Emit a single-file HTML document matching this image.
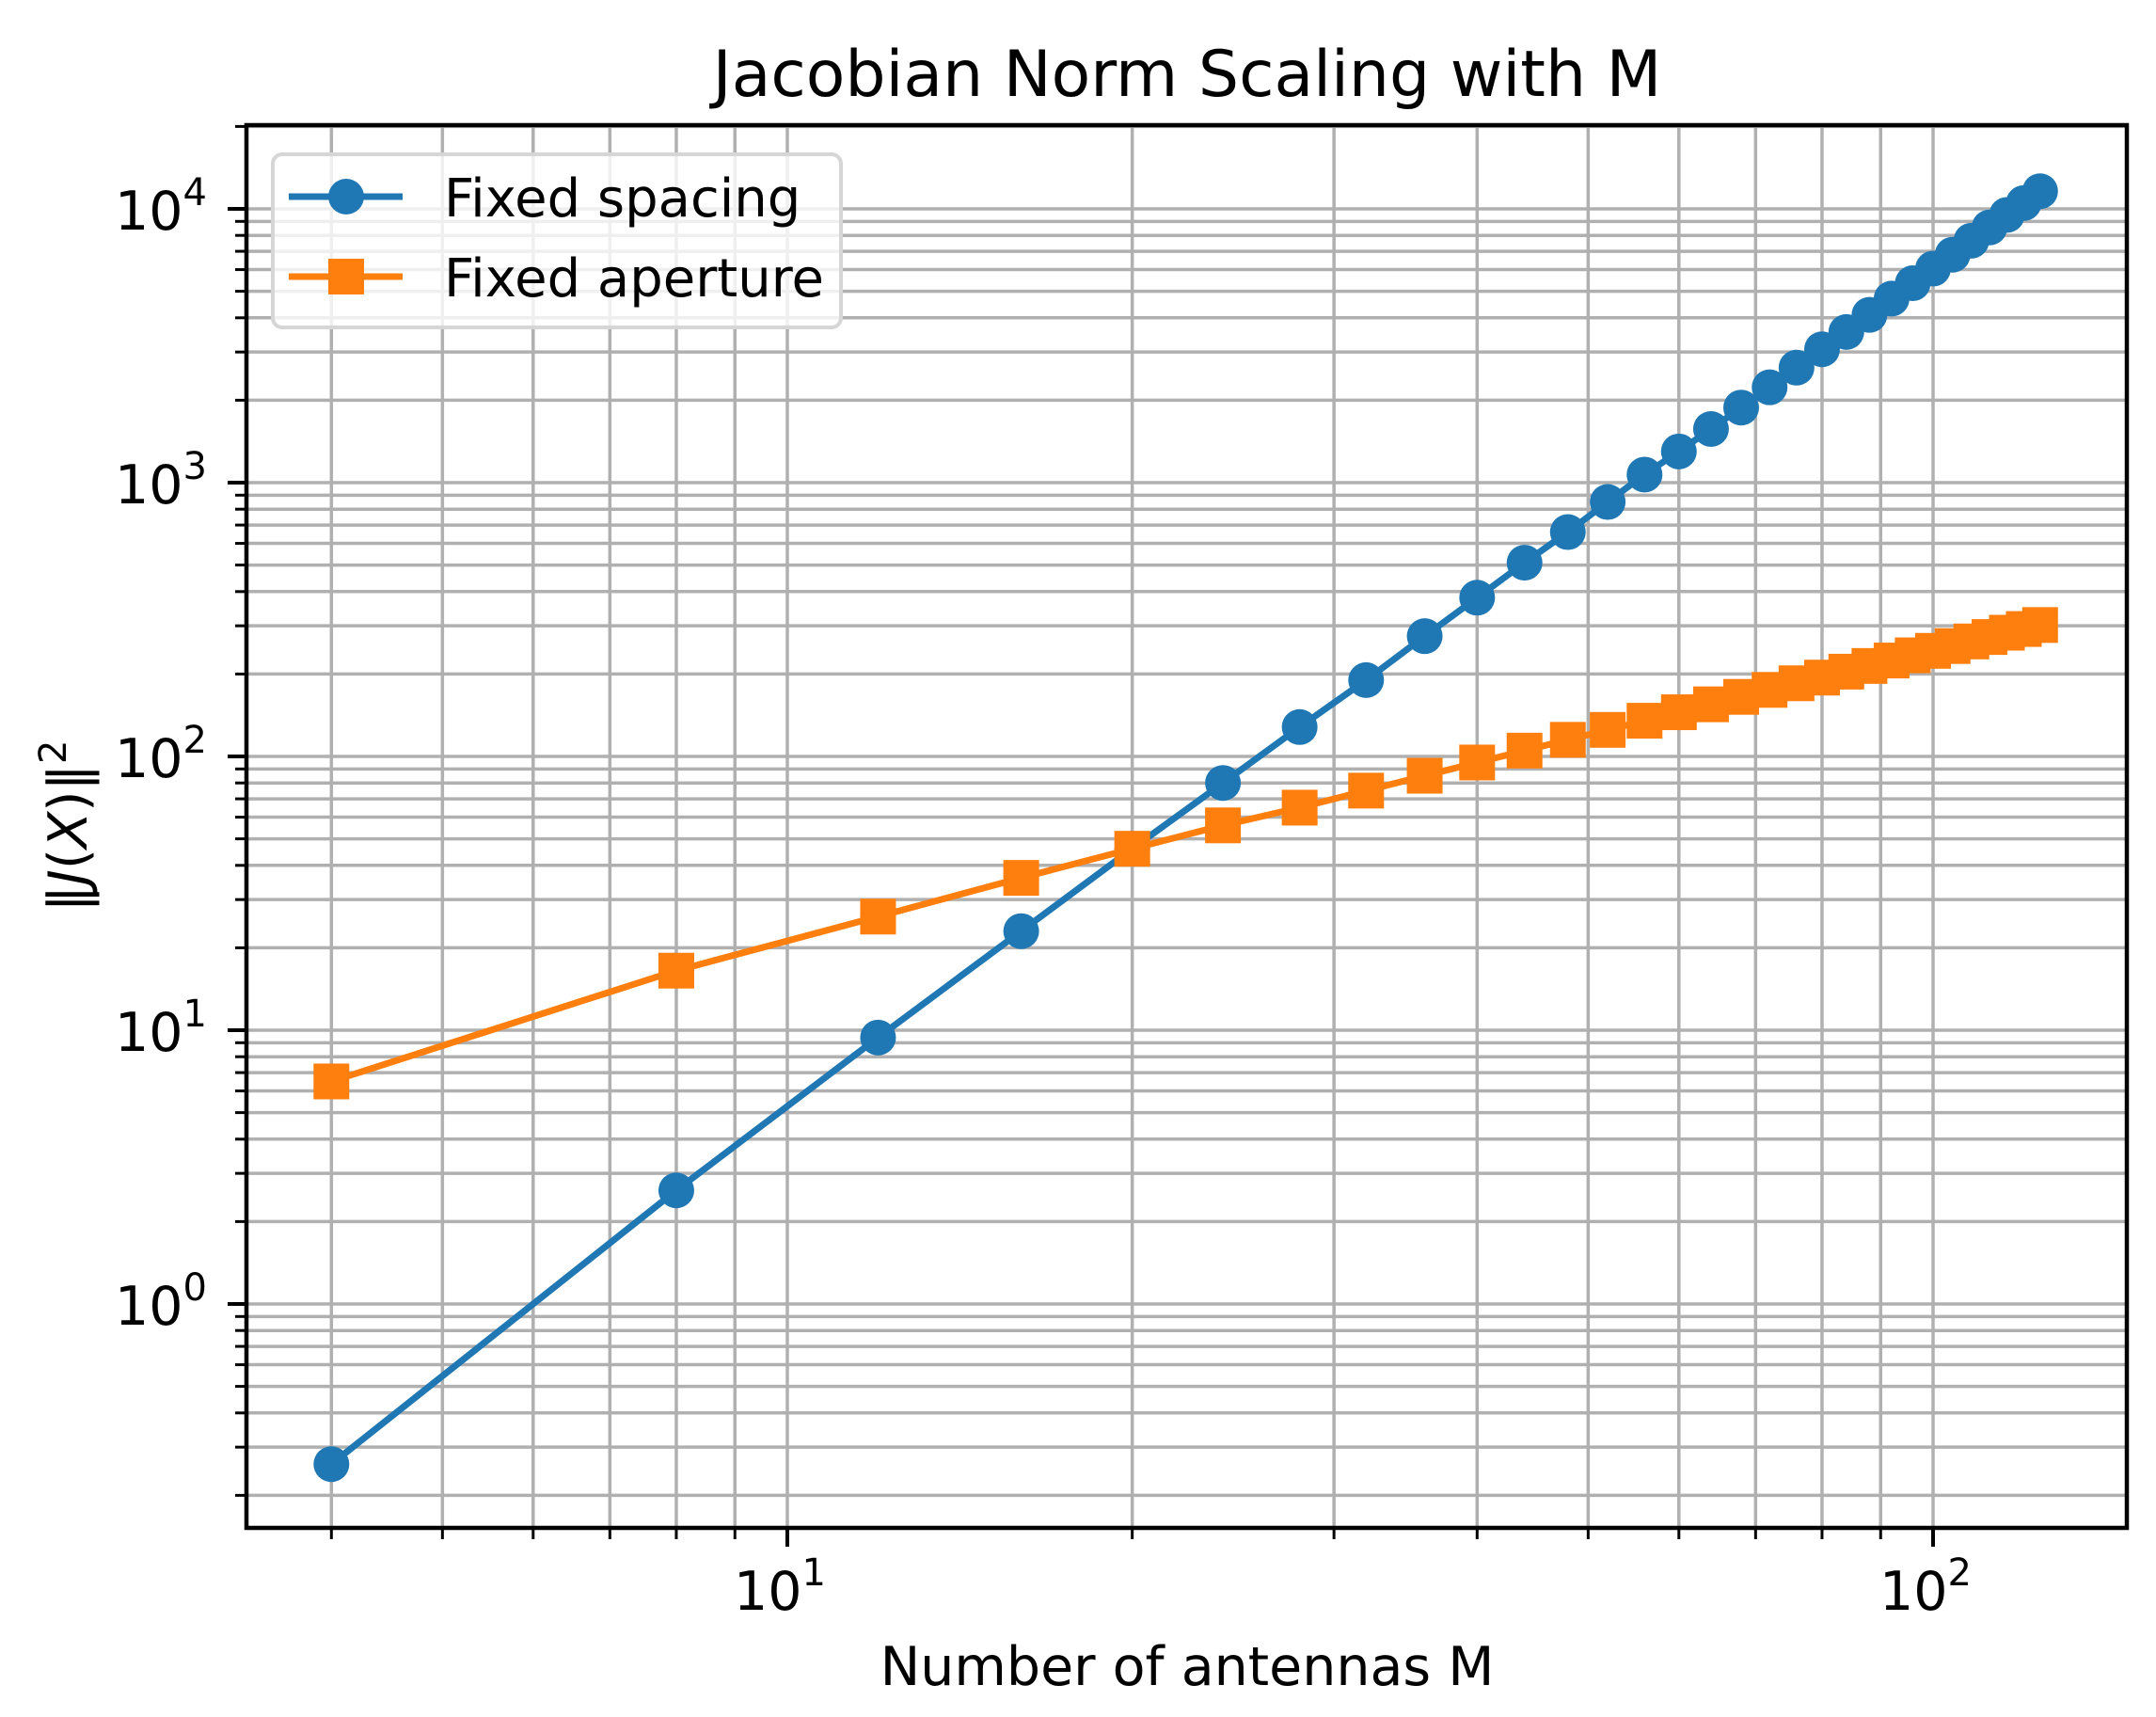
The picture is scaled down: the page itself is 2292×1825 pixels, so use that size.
<!DOCTYPE html>
<html><head><meta charset="utf-8"><style>
html,body{margin:0;padding:0;background:#fff;}
svg{display:block;font-family:"DejaVu Sans","Liberation Sans",sans-serif;}
</style></head><body>
<svg id="chart" width="2292" height="1825" viewBox="0 0 2292 1825" xmlns="http://www.w3.org/2000/svg">
<rect width="2292" height="1825" fill="#fff"/>
<g id="grid"></g>
<g id="ticks"></g>
<g id="series"></g>
<rect x="262" y="133" width="1999" height="1491" fill="none" stroke="#000" stroke-width="4.5"/>
<g>
<rect x="290" y="164" width="604" height="184" rx="10" fill="#fff" fill-opacity="0.8" stroke="#d6d6d6" stroke-width="4"/>
<line x1="307" y1="209" x2="428" y2="209" stroke="#1f77b4" stroke-width="7"/>
<circle cx="368" cy="209" r="19" fill="#1f77b4"/>
<text x="472" y="230" font-size="56" fill="#000">Fixed spacing</text>
<line x1="307" y1="294" x2="428" y2="294" stroke="#ff7f0e" stroke-width="7"/>
<rect x="349" y="275" width="38" height="38" fill="#ff7f0e"/>
<text x="472" y="315" font-size="56" fill="#000">Fixed aperture</text>
</g>
<text x="1262" y="102" font-size="68" text-anchor="middle" fill="#000">Jacobian Norm Scaling with M</text>
<text x="1262" y="1791" font-size="57" text-anchor="middle" fill="#000">Number of antennas M</text>
<text transform="translate(92,878) rotate(-90)" font-size="57" text-anchor="middle" fill="#000">‖<tspan font-style="italic">J</tspan>(<tspan font-style="italic">X</tspan>)‖<tspan font-size="40" dy="-22">2</tspan></text>
</svg>
<script>
const antennas = [4,8,12,16,20,24,28,32,36,40,44,48,52,56,60,64,68,72,76,80,84,88,92,96,100,104,108,112,116,120,124];
const fixedSpacing = [0.26,2.6,9.4,23,46,80,128,190,275,380,510,660,850,1070,1300,1570,1880,2230,2630,3070,3550,4100,4700,5350,6050,6800,7650,8550,9500,10500,11600];
const fixedAperture = [6.5,16.5,26,36,46,56,65,75,85,95,105,115,125,135,145,155,165,175,185,194,204,214,224,234,243,253,263,273,283,292,302];
const xMajorTicks = [10,100];
const xTickLabels = ["1","2"];
const yMajorTicks = [1,10,100,1000,10000];
const yTickLabels = ["0","1","2","3","4"];

const NS = "http://www.w3.org/2000/svg";
const L = 262, R = 2261, T = 133, B = 1624;
function xs(v){ return 837 + (Math.log10(v) - 1) * 1218; }
function ys(v){ return 1386 - Math.log10(v) * 291; }
function mk(tag, attrs, parent){ const e = document.createElementNS(NS, tag); for (const k in attrs) e.setAttribute(k, attrs[k]); parent.appendChild(e); return e; }

const grid = document.getElementById('grid');
const ticks = document.getElementById('ticks');
const series = document.getElementById('series');

for (let d = 0; d <= 2; d++) {
  for (let m = 1; m <= 9; m++) {
    const v = m * Math.pow(10, d);
    const x = xs(v);
    if (x < L || x > R) continue;
    const g = mk('line', {x1:x, y1:T, x2:x, y2:B, stroke:'#b0b0b0', 'stroke-width':3.5}, grid);
    
    
    const t = mk('line', {x1:x, y1:B, x2:x, y2:B + (m === 1 ? 20 : 12), stroke:'#000', 'stroke-width': m === 1 ? 4 : 3}, ticks);
    
    
  }
}
for (let d = -1; d <= 4; d++) {
  for (let m = 1; m <= 9; m++) {
    const v = m * Math.pow(10, d);
    const y = ys(v);
    if (y < T || y > B) continue;
    const g = mk('line', {x1:L, y1:y, x2:R, y2:y, stroke:'#b0b0b0', 'stroke-width':3.5}, grid);
    
    
    const t = mk('line', {x1:L - (m === 1 ? 20 : 12), y1:y, x2:L, y2:y, stroke:'#000', 'stroke-width': m === 1 ? 4 : 3}, ticks);
    
    
  }
}
xMajorTicks.forEach((v, i) => {
  const t = mk('text', {x: xs(v) - 8, y: 1711, 'font-size':57, 'text-anchor':'middle', fill:'#000'}, ticks);
  
  
  t.textContent = '10';
  const s = mk('tspan', {'font-size':40, dy:-26}, t);
  s.textContent = xTickLabels[i];
});
yMajorTicks.forEach((v, i) => {
  const t = mk('text', {x: 220, y: ys(v) + 22, 'font-size':57, 'text-anchor':'end', fill:'#000'}, ticks);
  
  
  t.textContent = '10';
  const s = mk('tspan', {'font-size':40, dy:-26}, t);
  s.textContent = yTickLabels[i];
});

function drawSeries(vals, color, name, square) {
  const pts = antennas.map((m, i) => xs(m).toFixed(1) + ',' + ys(vals[i]).toFixed(1)).join(' ');
  const pl = mk('polyline', {points: pts, fill:'none', stroke: color, 'stroke-width':7, 'stroke-linejoin':'round'}, series);
  
  
  antennas.forEach((m, i) => {
    const x = xs(m), y = ys(vals[i]);
    let e;
    if (square) e = mk('rect', {x: x - 19, y: y - 19, width: 38, height: 38, fill: color}, series);
    else e = mk('circle', {cx: x, cy: y, r: 19, fill: color}, series);
    
    
  });
}
drawSeries(fixedSpacing, '#1f77b4', 'fixed-spacing', false);
drawSeries(fixedAperture, '#ff7f0e', 'fixed-aperture', true);
</script>
</body></html>
